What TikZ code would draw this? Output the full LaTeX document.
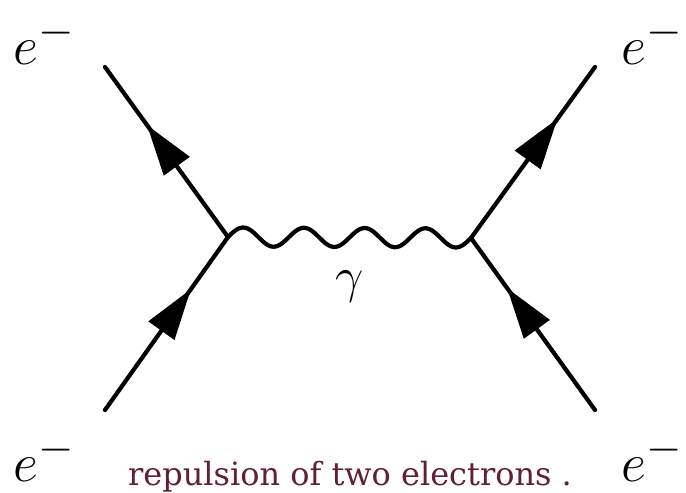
\documentclass[tikz,border=0pt]{standalone}
\usepackage{fontspec}
\setmainfont{DejaVu Serif}
\usetikzlibrary{arrows.meta,decorations.markings}
\definecolor{capred}{RGB}{98,32,52}
\tikzset{
  fermion/.style={line width=2.4pt, line cap=round},
  tipat/.style={postaction={decorate},decoration={markings,
     mark=at position #1 with {\arrow{Triangle[length=1.02cm,width=0.62cm]}}}},
  photon/.style={line width=2.4pt, line cap=round},
  elabel/.style={inner sep=0pt, font=\Huge, scale=1.25},
}
\begin{document}
\begin{tikzpicture}[x=0.02cm,y=-0.02cm]
\useasboundingbox[fill=white] (0,0) rectangle (686,493);
\coordinate (vL) at (228,237);
\coordinate (vR) at (471,238);
\coordinate (tl) at (105,67);
\coordinate (bl) at (105,410);
\coordinate (tr) at (595,67);
\coordinate (br) at (595,410);
\draw[fermion, tipat=0.66] (vL) -- (tl);
\draw[fermion, tipat=0.70] (bl) -- (vL);
\draw[fermion, tipat=0.70] (vR) -- (tr);
\draw[fermion, tipat=0.71] (br) -- (vR);
\draw[photon] (vL) -- plot[domain=0:1, samples=240, smooth] ({228+243*\x},{237+\x-9.5*sin(4*360*\x)}) -- (vR);
\node[elabel] (etl) at (44,41) {$e^-$};
\node[elabel] (etr) at (652,41) {$e^-$};
\node[elabel] (ebl) at (44,458) {$e^-$};
\node[elabel] (ebr) at (652,458) {$e^-$};
\node[inner sep=0pt, font=\Huge, scale=1.15] (gam) at (350,287) {$\gamma$};
\node[inner sep=0pt, anchor=base, text=capred, font=\fontsize{18.2}{21}\selectfont] (cap) at (350,485) {repulsion of two electrons .};
\end{tikzpicture}
\end{document}
